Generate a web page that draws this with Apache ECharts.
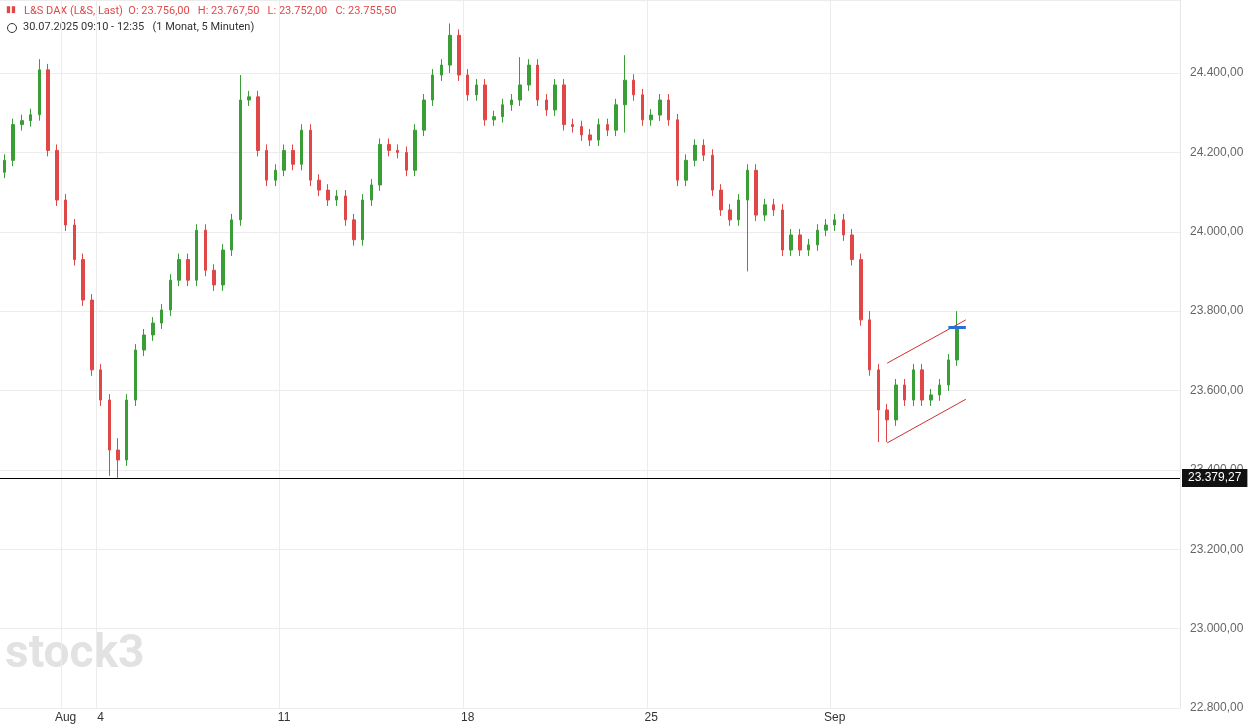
<!DOCTYPE html>
<html><head><meta charset="utf-8">
<script src="https://cdn.jsdelivr.net/npm/echarts@6/dist/echarts.min.js"></script>
<style>html,body{margin:0;padding:0;background:#fff}#c{width:1249px;height:728px}</style>
</head><body><div id="c"></div>
<script>
var closes = [24180,24270,24280,24295,24408,24205,24080,24017,23930,23828,
  23652,23576,23450,23425,23576,23702,23740,23770,23803,23878,
  23930,23878,24004,23903,23866,23954,24030,24332,24340,24205,
  24130,24155,24205,24170,24256,24130,24105,24080,24090,24030,
  23980,24080,24118,24220,24205,24200,24155,24256,24332,24395,
  24420,24495,24395,24345,24370,24282,24290,24320,24332,24370,
  24420,24332,24307,24370,24270,24265,24244,24231,24270,24256,
  24320,24382,24345,24282,24294,24332,24282,24130,24180,24218,
  24193,24105,24055,24030,24080,24155,24042,24068,24055,23954,
  23992,23954,23967,24004,24017,24030,23992,23930,23778,23652,
  23551,23526,23614,23576,23652,23576,23589,23614,23677,23755.5];
var firstOpen = 24150;
// notable wick extremes: index -> [low, high]
var extremes = {4:[24300,24435],12:[23385,23500],13:[23380,23480],27:[24030,24395],51:[24400,24525],59:[24330,24440],71:[24250,24445],85:[23900,24170],99:[23640,23800],100:[23470,23660],101:[23470,23560],109:[23670,23800]};
var dayLabels = {7:'Aug',11:'4',32:'11',53:'18',74:'25',95:'Sep'};
var totalCats = 135;
var lastPrice = 23755.5, refLine = 23379.27;
var channelUp = [[101,23669],[110,23778]], channelDn = [[101,23468],[110,23578]];

var cats = [], ohlc = [];
for (var i = 0; i < totalCats; i++) {
  cats.push(dayLabels[i] || '');
  if (i < closes.length) {
    var o = i ? closes[i-1] : firstOpen, c = closes[i];
    var lo = Math.min(o,c) - 15, hi = Math.max(o,c) + 15;
    if (extremes[i]) { lo = Math.min(lo, extremes[i][0]); hi = Math.max(hi, extremes[i][1]); }
    ohlc.push([o, c, lo, hi]);
  } else ohlc.push('-');
}
function fmt(v){ return v.toFixed(2).replace('.',',').replace(/\B(?=(\d{3})+(?!\d))/g,'.'); }
var isDay = function(i){ return dayLabels[i] !== undefined; };

var chart = echarts.init(document.getElementById('c'));
chart.setOption({
  animation: false,
  grid: { top: 0, bottom: 20, left: 0, right: 69 },
  graphic: [
    { type: 'text', left: 24, top: 6, style: { text: 'L&S DAX (L&S, Last)  O: 23.756,00   H: 23.767,50   L: 23.752,00   C: 23.755,50', fill: '#e04848', font: '11px Roboto' } },
    { type: 'text', left: 6, top: 5, style: { text: '▮▮', fill: '#e04848', font: '9px Roboto' } },
    { type: 'circle', shape: { cx: 12, cy: 28, r: 4.5 }, style: { fill: 'none', stroke: '#333', lineWidth: 1 } },
    { type: 'text', left: 23, top: 22, style: { text: '30.07.2025 09:10 - 12:35   (1 Monat, 5 Minuten)', fill: '#333', font: '11px Roboto' } },
    { type: 'text', left: 5, top: 632, style: { text: 'stock3', fill: '#e2e2e2', font: 'bold 46px Roboto' } }
  ],
  xAxis: {
    type: 'category', data: cats, boundaryGap: true,
    axisLine: { show: false },
    axisTick: { interval: isDay, lineStyle: { color: '#999' }, length: 4, inside: true },
    axisLabel: { interval: isDay, color: '#333', fontSize: 12, margin: 4 },
    splitLine: { show: true, interval: isDay, lineStyle: { color: '#ececec' } }
  },
  yAxis: {
    type: 'value', position: 'right', min: 22800, max: 24584, interval: 200,
    axisLine: { show: true, lineStyle: { color: '#e6e6e6' } },
    axisLabel: { color: '#666', fontSize: 12, margin: 10, formatter: function(v){ return v % 200 === 0 ? fmt(v) : ''; } },
    splitLine: { lineStyle: { color: '#ececec' } }
  },
  series: [{
    type: 'candlestick', data: ohlc, barWidth: 3,
    itemStyle: { color: '#3a9e36', color0: '#e04848', borderColor: '#3a9e36', borderColor0: '#e04848' },
    markLine: {
      symbol: 'none', silent: true,
      data: [
        { yAxis: refLine, lineStyle: { color: '#000', width: 1, type: 'solid' },
          label: { show: true, position: 'end', formatter: fmt(refLine), color: '#fff', backgroundColor: '#111', padding: [3,6], fontSize: 12, distance: 2 } },
        { yAxis: lastPrice, lineStyle: { opacity: 0 },
          label: { show: true, position: 'end', formatter: fmt(lastPrice), color: '#fff', backgroundColor: '#3a9e36', padding: [3,6], fontSize: 12, distance: 2 } },
        [{ coord: channelUp[0], lineStyle: { color: '#d03030', width: 1, type: 'solid' } }, { coord: channelUp[1] }],
        [{ coord: channelDn[0], lineStyle: { color: '#d03030', width: 1, type: 'solid' } }, { coord: channelDn[1] }],
        [{ coord: [108, 23760], lineStyle: { color: '#2a6fd6', width: 3, type: 'solid' } }, { coord: [110, 23760] }]
      ]
    }
  }]
});
</script></body></html>
